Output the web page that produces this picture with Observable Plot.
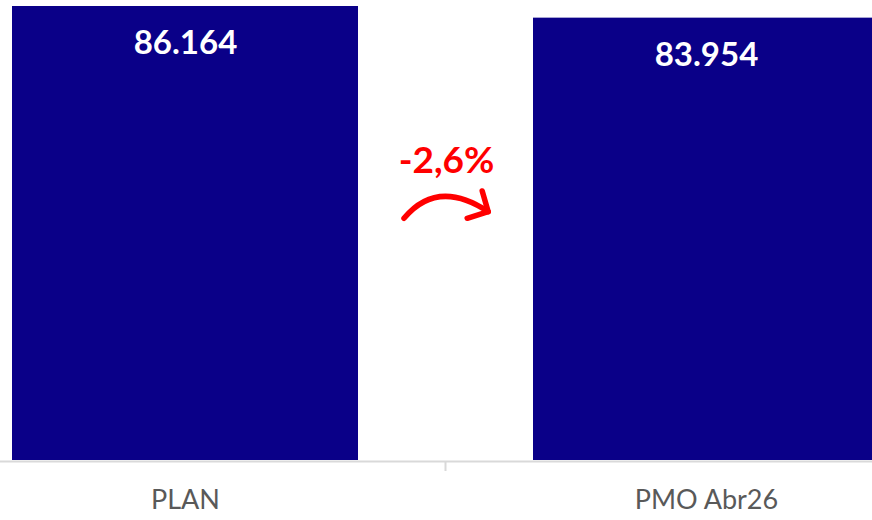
<!DOCTYPE html>
<html>
<head>
<meta charset="utf-8">
<script src="https://cdn.jsdelivr.net/npm/d3@7"></script>
<script src="https://cdn.jsdelivr.net/npm/@observablehq/plot@0.6"></script>
<style>
  html, body { margin: 0; padding: 0; background: white; overflow: hidden; }
  #chart svg { display: block; }
</style>
</head>
<body>
<div id="chart"></div>
<script>
const categories = ["PLAN", "PMO Abr26"];
const values = [86164, 83954];

const barColor = "#0a0088";
const data = categories.map((c, i) => ({category: c, value: values[i]}));

const esLocale = d3.formatLocale({decimal: ",", thousands: ".", grouping: [3], currency: ["", " €"]});
const fmtValue = esLocale.format(",d");
const change = values[1] / values[0] - 1;
const changeLabel = esLocale.format(".1f")(change * 100).replace("−", "-") + "%";

function annotation(index, scales) {
  const x = scales.x, y = scales.y;
  const mid = (x(categories[0]) + x(categories[1]) + x.bandwidth()) / 2;
  const y0 = y(0);
  const g = d3.create("svg:g");
  // category separator tick
  g.append("line")
    .attr("x1", mid).attr("x2", mid)
    .attr("y1", y0 + 1).attr("y2", y0 + 11)
    .attr("stroke", "#d9d9d9").attr("stroke-width", 2);
  // change label
  g.append("text")
    .attr("x", mid + 1).attr("y", y0 - 300)
    .attr("text-anchor", "middle").attr("dy", "0.35em")
    .attr("fill", "#ff0000").attr("font-weight", "bold")
    .attr("font-size", 37).attr("font-family", "Lato")
    .text(changeLabel);
  // curved arrow
  const sx = mid - 41.5, sy = y0 - 241.7;
  const ex = mid + 42.7, ey = y0 - 248.3;
  g.append("path")
    .attr("d", `M${sx},${sy} Q${mid - 8},${y0 - 282} ${ex},${ey}`)
    .attr("fill", "none").attr("stroke", "#ff0000")
    .attr("stroke-width", 5.5).attr("stroke-linecap", "round");
  g.append("path")
    .attr("d", `M${mid + 36.7},${y0 - 269} L${ex},${ey} L${mid + 21.7},${y0 - 241.7}`)
    .attr("fill", "none").attr("stroke", "#ff0000")
    .attr("stroke-width", 5.5).attr("stroke-linecap", "round").attr("stroke-linejoin", "round");
  return g.node();
}

const plot = Plot.plot({
  width: 872,
  height: 520,
  marginTop: 0, marginBottom: 0, marginLeft: 0, marginRight: 0,
  style: {fontFamily: "Lato", background: "white"},
  x: {domain: categories, range: [-75.5, 966.5], paddingInner: 0.336, paddingOuter: 0.168, axis: null},
  y: {domain: [0, values[0]], range: [460, 6], axis: null},
  marks: [
    Plot.barY(data, {x: "category", y: "value", fill: barColor}),
    Plot.ruleY([0], {stroke: "#d9d9d9", strokeWidth: 2, dy: 1}),
    Plot.text(data, {x: "category", y: "value", text: d => fmtValue(d.value), dy: 37, fill: "white", fontSize: 33, fontWeight: "bold"}),
    Plot.text(data, {x: "category", y: () => 0, text: "category", dy: 40, fill: "#595959", fontSize: 27}),
    annotation
  ]
});
document.getElementById("chart").appendChild(plot);
</script>
</body>
</html>
